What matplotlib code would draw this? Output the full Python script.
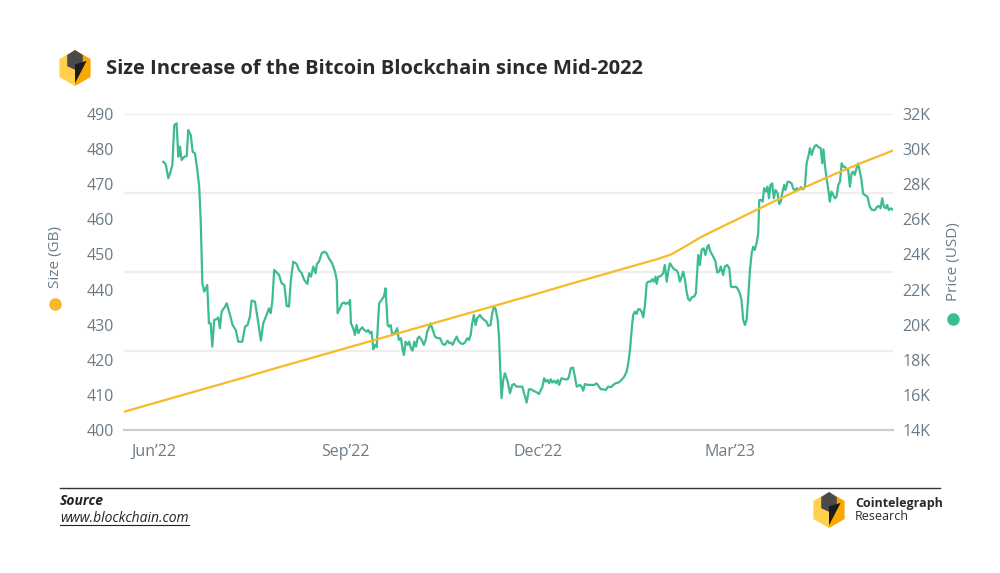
import matplotlib
matplotlib.use('Agg')
import matplotlib.pyplot as plt
from matplotlib.patches import Polygon
from matplotlib.lines import Line2D
from matplotlib.ticker import FuncFormatter

plt.rcParams['font.family'] = ['Open Sans', 'DejaVu Sans']

# data (x = day index from mid-May 2022)
size_days = [0, 14, 28, 42, 56, 70, 84, 98, 112, 126, 140, 154, 168, 182,
             196, 210, 224, 238, 252, 259, 266, 273, 280, 294, 308, 318,
             336, 350, 364]
size_gb = [405.2, 407.6, 410.0, 412.4, 414.8, 417.3, 419.7, 422.1, 424.5,
           426.9, 429.3, 431.7, 434.1, 436.5, 438.9, 441.4, 443.8, 446.2,
           448.6, 450.0, 452.4, 454.9, 457.0, 461.1, 465.2, 468.0, 472.8,
           476.3, 479.6]

price_days = [
    18.6, 19.7, 21.0, 21.8, 22.9, 23.8, 24.9, 25.7, 26.5, 27.3, 28.6, 29.7,
    30.4, 31.6, 32.5, 33.6, 34.7, 35.6, 36.3, 37.1, 38.0, 38.7, 39.4, 40.2,
    41.0, 41.8, 42.7, 43.9, 44.6, 45.4, 46.2, 47.8, 48.6, 50.2, 51.4, 52.9,
    54.1, 56.0, 57.3, 58.5, 59.6, 60.4, 62.0, 63.6, 64.8, 65.9, 67.5, 68.6,
    69.4, 70.2, 71.1, 72.3, 73.4, 74.6, 75.9, 77.0, 78.1, 79.0, 80.1, 81.7,
    82.8, 84.1, 85.3, 86.8, 87.6, 88.5, 89.6, 90.7, 91.3, 92.3, 93.6, 94.8,
    95.9, 97.0, 98.5, 99.9, 100.7, 101.1,
    102.2, 103.3, 104.3, 104.9, 105.9, 106.5, 107.0, 107.4, 108.5, 109.3,
    110.1, 110.9, 111.7, 112.8, 113.7, 114.9, 115.6, 116.4, 117.2, 118.0,
    118.8, 119.6, 120.3, 120.8, 121.9, 123.0, 123.8, 124.8, 125.4, 126.2,
    127.0, 127.8, 128.6, 129.3, 130.1, 131.1, 131.9, 132.5, 133.3, 134.3,
    135.0, 135.8, 136.6, 137.4, 138.2, 139.0, 139.7, 140.9, 141.9, 142.8,
    143.5, 144.3, 145.1, 145.9, 147.2, 148.5, 149.6, 150.8, 151.9, 153.2,
    154.0, 154.8, 155.6, 156.6, 157.5, 158.2, 159.3, 160.3, 161.4, 162.5,
    163.3, 164.1, 164.8, 165.6, 166.4, 167.2, 168.5, 169.3, 170.5, 171.6,
    172.4, 173.5, 174.3, 175.1, 175.9, 176.9, 177.5, 178.1, 178.7, 179.5,
    180.3, 181.6, 182.7, 183.8, 184.7, 185.8, 187.4, 188.5, 189.4, 190.6,
    191.7, 192.6, 193.7, 195.3, 196.4, 197.3, 198.0, 198.9, 199.6, 200.5,
    201.2, 202.0, 202.7, 203.7, 204.5, 205.3, 206.0, 207.1, 208.4, 210.0,
    210.6, 211.5, 212.6, 213.4, 214.3, 215.0, 215.8, 216.6, 217.4, 218.2,
    219.5, 221.0, 222.6, 223.7, 224.8, 225.7, 226.8, 228.0, 229.2, 230.5,
    231.6, 232.7, 234.0, 235.5, 236.8, 237.9, 238.7, 239.5, 240.3, 241.0,
    241.8, 242.6, 243.4, 244.2, 245.0, 245.8, 246.6, 247.4, 248.2, 249.3,
    250.0, 250.8, 251.6, 252.1, 252.9, 254.1, 255.2, 256.0, 256.9, 257.6,
    258.4, 259.2, 260.4, 261.6, 262.3, 263.1, 263.9, 264.7, 265.5, 266.3,
    267.1, 267.9, 268.7,
    269.9, 270.7, 271.8, 272.6, 273.4, 274.4, 275.2, 276.2, 276.7, 277.6,
    278.9, 280.0, 280.8, 281.7, 282.5, 283.6, 284.4, 285.5, 286.5, 287.3,
    288.3, 289.5, 290.4, 291.5, 292.3, 293.1, 293.9, 294.7, 295.5, 296.3,
    297.1, 297.8, 298.6, 299.4, 300.2, 300.7, 301.5, 302.3, 303.0, 303.8,
    304.6, 305.3, 306.0, 306.8, 307.6, 308.4, 309.4, 310.1, 310.9, 311.7,
    312.5, 313.1, 314.1, 314.8, 316.0, 316.7, 317.6, 318.4, 319.5, 320.4,
    321.5, 322.3, 323.1, 323.9, 324.7, 325.5, 326.2, 327.0, 327.8, 328.9,
    329.8, 330.5, 331.1, 331.7, 332.5, 333.3, 334.1, 334.9, 335.7, 336.5,
    337.3, 338.1, 338.9, 339.7, 340.4, 341.2, 342.0, 342.8, 343.6, 344.4,
    345.1, 345.9, 346.7, 347.5, 348.3, 349.1, 349.8, 350.6, 351.9, 353.0,
    354.1, 355.4, 356.5, 357.3, 358.1, 358.9, 359.7, 360.5, 361.2, 362.0,
    363.0, 364.0]
price_usd = [
    29280, 29150, 28340, 28620, 29100, 31370, 31470, 29570, 30140, 29380, 29570, 29610,
    31090, 30800, 29850, 29760, 28810, 27860, 25960, 22360, 21880, 22070, 22260, 20080,
    20080, 18750, 20270, 20310, 20420, 19800, 20740, 21030, 21220, 20550, 19980, 19700,
    19030, 19030, 19890, 19980, 20460, 21370, 21310, 20080, 19090, 20080, 20550, 20930,
    20650, 21310, 23120, 22970, 22830, 22360, 22260, 21070, 21030, 22550, 23590, 23460,
    23120, 22930, 22550, 22320, 22930, 22740, 23310, 22930, 23460, 23590, 24070, 24160,
    24070, 23780, 23500, 23020, 22550, 20650,
    20930, 21220, 21260, 21180, 21260, 21160, 21410, 20080, 19800, 19420,
    19980, 19510, 19700, 19850, 19700, 19600, 19700, 19510, 19600, 18600,
    18850, 18710, 20270, 21220, 21410, 21600, 22070, 19980, 19890, 19980,
    19420, 19510, 19600, 19800, 19130, 19230, 18560, 18280, 19030, 18850,
    19030, 18660, 18520, 19030, 18750, 19230, 19320, 19130, 18850, 19130,
    19600, 19800, 20080, 19800, 19320, 19230, 19230, 18900, 18850, 19090,
    18940, 18980, 18850, 19130, 19320, 19090, 18940, 18900, 18980, 19230,
    19130, 19420, 20080, 20550, 19980, 20370, 20550, 20400, 20270, 20170,
    19930, 19980, 20650, 21030, 20880, 20270, 19320, 17420, 15810, 16850,
    17230, 16760, 16090, 16570, 16620, 16470, 16470, 16470, 16090, 15560,
    16320, 16320, 16240, 16150, 16050, 16280, 16440, 16950, 16760, 16850,
    16660, 16890, 16700, 16810, 16660, 16850, 16570, 16950, 16890, 16890,
    17040, 17520, 17550, 17040, 16470, 16510, 16570, 16470, 16240, 16620,
    16570, 16570, 16570, 16660, 16470, 16320, 16320, 16280, 16470, 16440,
    16570, 16660, 16700, 16850, 17040, 17320, 17800, 18560, 19700, 20550,
    20740, 20610, 20880, 20880, 20740, 20420, 21120, 22360, 22450, 22450,
    22590, 22450, 22730, 22320, 22730, 22770, 22930, 23400, 22450, 23020,
    23500, 23340, 23160, 23080, 22930, 22450, 22700, 23020, 22590, 21880,
    21450, 21370, 21560,
    21600, 21790, 23970, 23400, 24260, 24350, 23970, 24440, 24540, 24160,
    23880, 23590, 22970, 23020, 23310, 22830, 23310, 23400, 23210, 22170,
    22130, 22170, 22070, 21790, 21410, 20270, 19980, 20270, 21600, 23120,
    24070, 24440, 24260, 24640, 25210, 27100, 27100, 27010, 27770, 27580,
    27860, 27200, 27960, 28050, 27200, 27670, 27480, 26870, 27010, 27580,
    27960, 27670, 28140, 28140, 28050, 27770, 27620, 27770, 27670, 27830,
    27710, 27860, 29190, 29570, 30050, 29670, 29950, 30180, 30230, 30100,
    30050, 29190, 29990, 29190, 28340, 27770, 27010, 27580, 27390, 27200,
    27290, 27960, 28140, 29190, 29000, 29000, 28850, 28810, 27860, 28620,
    28710, 28530, 28910, 29190, 28710, 28240, 27480, 27390, 27290, 26720,
    26530, 26530, 26720, 26760, 26630, 27200, 26720, 26630, 26820, 26530,
    26630, 26530]

tick_days = [14, 105, 196, 287]
tick_labels = ['Jun\u201922', 'Sep\u201922', 'Dec\u201922', 'Mar\u201923']
size_ticks = list(range(400, 491, 10))
price_ticks = list(range(14000, 32001, 2000))

YELLOW = '#f7b928'
GREEN = '#3dbb92'
GREY = '#6b7b86'
W, H = 1000, 573


def fx(px):
    return px / W


def fy(py):
    return 1 - py / H


def logo(fig, cx, cy, r):
    w = 0.866 * r

    def P(pts, c):
        xy = [(fx(cx + a * w), fy(cy - b * r)) for a, b in pts]
        fig.add_artist(Polygon(xy, closed=True, facecolor=c, edgecolor='none',
                               transform=fig.transFigure))
    P([(0, 1), (-1, 0.5), (-1, -0.5), (0, -1)], '#ffcf4d')
    P([(0, 1), (1, 0.5), (1, -0.5), (0, -1)], '#f9a800')
    P([(-0.5, 0.72), (0, 1), (0.5, 0.72), (0.5, 0.1), (0, -0.1), (-0.5, 0.1)], '#4a4a4a')
    P([(0, 0.2), (0.75, 0.4), (0.0, -0.85)], '#1c1c1c')


fig = plt.figure(figsize=(10, 5.73), dpi=100)
fig.patch.set_facecolor('white')
ax = fig.add_axes([fx(124), fy(430), fx(893) - fx(124), fy(114) - fy(430)])
ax2 = ax.twinx()
# size axis drawn on top so the yellow line sits over the price line
ax.set_zorder(ax2.get_zorder() + 1)
ax.patch.set_visible(False)

ax.set_xlim(0, 364)
ax.set_ylim(400, 490)
ax2.set_ylim(14000, 32000)

lo, hi = ax2.get_ylim()
for frac in (0.25, 0.5, 0.75, 1.0):
    ax2.axhline(lo + frac * (hi - lo), color='#eeeeee', lw=1.6, zorder=0)

ax2.plot(price_days, price_usd, color=GREEN, lw=1.6, zorder=2)
ax.plot(size_days, size_gb, color=YELLOW, lw=1.6, zorder=3)

ax.set_yticks(size_ticks)
ax2.set_yticks(price_ticks)
ax2.yaxis.set_major_formatter(FuncFormatter(lambda v, p: f'{v / 1000:.0f}K'))
ax.set_xticks(tick_days)
ax.set_xticklabels(tick_labels)

for a in (ax, ax2):
    for s in ('top', 'left', 'right', 'bottom'):
        a.spines[s].set_visible(False)
    a.tick_params(length=0, labelsize=11.5, labelcolor=GREY)
ax.tick_params(axis='y', pad=7)
ax2.tick_params(axis='y', pad=7)
ax.tick_params(axis='x', pad=10)
ax.spines['bottom'].set_visible(True)
ax.spines['bottom'].set_color('#c9ced2')
ax.spines['bottom'].set_linewidth(1.6)

# axis titles with coloured dots
fig.text(fx(55), fy(257), 'Size (GB)', rotation=90, ha='center', va='center',
         fontsize=11, color=GREY)
fig.add_artist(Line2D([fx(55)], [fy(304)], marker='o', ms=8, color=YELLOW,
                      transform=fig.transFigure))
fig.text(fx(953), fy(262), 'Price (USD)', rotation=90, ha='center', va='center',
         fontsize=11, color=GREY)
fig.add_artist(Line2D([fx(953)], [fy(319)], marker='o', ms=8, color=GREEN,
                      transform=fig.transFigure))

# header
logo(fig, 75, 68, 18)
fig.text(fx(106), fy(69), 'Size Increase of the Bitcoin Blockchain since Mid-2022',
         fontsize=14.5, fontweight='bold', color='#2b2b2b', va='center')

# footer
fig.add_artist(Line2D([fx(60), fx(940)], [fy(488), fy(488)], color='#333333',
                      lw=1.0, transform=fig.transFigure))
fig.text(fx(60), fy(501), 'Source', fontsize=10, fontweight='bold',
         fontstyle='italic', color='#222222', va='center')
url = fig.text(fx(60), fy(519), 'www.blockchain.com', fontsize=10,
               fontstyle='italic', color='#222222', va='center')
logo(fig, 829, 510, 18)
fig.text(fx(855), fy(504), 'Cointelegraph', fontsize=9, fontweight='bold',
         color='#2b2b2b', va='center')
fig.text(fx(855), fy(517), 'Research', fontsize=9, color='#2b2b2b', va='center')

fig.canvas.draw()
bb = url.get_window_extent().transformed(fig.transFigure.inverted())
fig.add_artist(Line2D([bb.x0, bb.x1], [bb.y0 + 0.002, bb.y0 + 0.002],
                      color='#222222', lw=0.8, transform=fig.transFigure))

fig.savefig('out.png', dpi=100, facecolor='white')
